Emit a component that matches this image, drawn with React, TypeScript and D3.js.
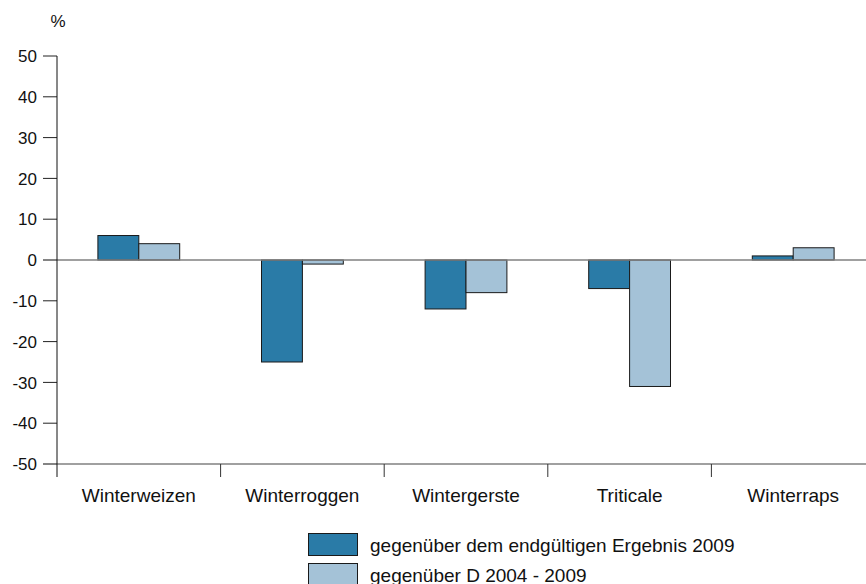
import React, { useEffect, useRef } from 'react'
import * as d3 from 'd3'

const categories = ['Winterweizen', 'Winterroggen', 'Wintergerste', 'Triticale', 'Winterraps']
const seriesNames = ['gegenüber dem endgültigen Ergebnis 2009', 'gegenüber D 2004 - 2009']
const vsFinal2009 = [6, -25, -12, -7, 1]
const vsAvg2004to2009 = [4, -1, -8, -31, 3]
const yTicks = [50, 40, 30, 20, 10, 0, -10, -20, -30, -40, -50]
const colors = ['#2a7ba7', '#a4c2d7']

const App = () => {
  const ref = useRef<SVGSVGElement>(null)

  useEffect(() => {
    const svg = d3.select(ref.current)
    svg.selectAll('*').remove()
    const font = 'Liberation Sans, Arial, sans-serif'

    const left = 57
    const x = d3.scaleBand().domain(categories).range([left, 875]).padding(0)
    const y = d3.scaleLinear().domain([-50, 50]).range([464, 56])
    const series = [vsFinal2009, vsAvg2004to2009]

    // y axis ticks + labels
    const yAxis = svg.append('g')
    yAxis.selectAll('line')
      .data(yTicks)
      .enter()
      .append('line')
      .attr('x1', 43).attr('x2', left)
      .attr('y1', d => y(d)).attr('y2', d => y(d))
      .attr('stroke', '#222').attr('stroke-width', 1)
    yAxis.selectAll('text')
      .data(yTicks)
      .enter()
      .append('text')
      .attr('x', 37).attr('y', d => y(d))
      .attr('dy', '0.36em')
      .attr('text-anchor', 'end')
      .attr('font-family', font).attr('font-size', 17)
      .attr('fill', '#111')
      .text(d => d)

    svg.append('text')
      .attr('x', 58).attr('y', 27)
      .attr('text-anchor', 'middle')
      .attr('font-family', font).attr('font-size', 17)
      .attr('fill', '#111')
      .text('%')

    // bars
    const barW = x.bandwidth() / 4
    series.forEach((vals, si) => {
      svg.append('g')
        .selectAll('rect')
        .data(vals)
        .enter()
        .append('rect')
        .attr('x', (d, i) => (x(categories[i]) as number) + barW + si * barW)
        .attr('y', d => y(Math.max(0, d)))
        .attr('width', barW)
        .attr('height', d => Math.abs(y(d) - y(0)))
        .attr('fill', colors[si])
        .attr('stroke', '#1a1a1a')
        .attr('stroke-width', 1)
    })

    // zero line and bottom line
    svg.append('line')
      .attr('x1', 43).attr('x2', 866)
      .attr('y1', y(0)).attr('y2', y(0))
      .attr('stroke', '#808080').attr('stroke-width', 1.5)
    svg.append('line')
      .attr('x1', 43).attr('x2', 866)
      .attr('y1', y(-50)).attr('y2', y(-50))
      .attr('stroke', '#808080').attr('stroke-width', 1.5)

    // category separators
    svg.append('g')
      .selectAll('line')
      .data(categories.slice(1))
      .enter()
      .append('line')
      .attr('x1', d => x(d) as number).attr('x2', d => x(d) as number)
      .attr('y1', y(-50)).attr('y2', 477)
      .attr('stroke', '#333').attr('stroke-width', 1)

    // y axis line
    svg.append('line')
      .attr('x1', left).attr('x2', left)
      .attr('y1', y(50)).attr('y2', 477)
      .attr('stroke', '#111').attr('stroke-width', 1)

    // category labels
    svg.append('g')
      .selectAll('text')
      .data(categories)
      .enter()
      .append('text')
      .attr('x', d => (x(d) as number) + x.bandwidth() / 2)
      .attr('y', 502)
      .attr('text-anchor', 'middle')
      .attr('font-family', font).attr('font-size', 19)
      .attr('fill', '#111')
      .text(d => d)

    // legend
    const legend = svg.append('g')
    seriesNames.forEach((name, i) => {
      const ly = 533 + i * 30
      legend.append('rect')
        .attr('x', 308.5).attr('y', ly + 0.5)
        .attr('width', 49).attr('height', 22)
        .attr('fill', colors[i])
        .attr('stroke', '#1a1a1a').attr('stroke-width', 1)
      legend.append('text')
        .attr('x', 370).attr('y', ly + 19)
        .attr('font-family', font).attr('font-size', 19)
        .attr('fill', '#111')
        .text(name)
    })
  }, [])

  return (
    <svg
      ref={ref}
      width={866}
      height={584}
      style={{ position: 'absolute', left: 0, top: 0, background: '#fff' }}
    />
  )
}

export default App
